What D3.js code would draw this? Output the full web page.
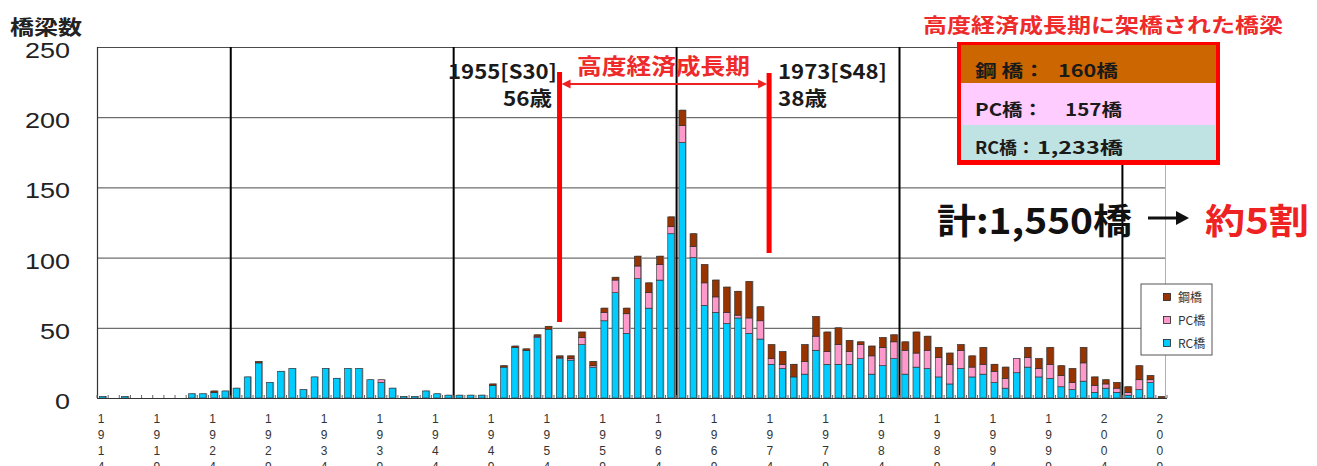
<!DOCTYPE html>
<html>
<head>
<meta charset="utf-8">
<script src="https://cdn.jsdelivr.net/npm/d3@7/dist/d3.min.js"></script>
<style>
  html, body { margin: 0; padding: 0; background: #fff; }
  svg { display: block; }
</style>
</head>
<body>
<svg id="chart" width="1317" height="466"></svg>
<script>
// Bridges built per year, 1914–2009, by structure type
const years = d3.range(1914, 2010);
const rcBridges = [
  1, 0, 1, 0, 0, 0, 0, 0, 3, 3,       // 1914-1923
  4, 5, 7, 15, 25, 11, 19, 21, 6, 15,  // 1924-1933
  21, 14, 21, 21, 13, 11, 7, 1, 1, 5,  // 1934-1943
  3, 2, 2, 2, 2, 9, 22, 36, 34, 43,    // 1944-1953
  49, 28, 27, 38, 22, 55, 75, 46, 85, 64, // 1954-1963
  84, 117, 182, 100, 66, 61, 53, 57, 46, 42, // 1964-1973
  24, 21, 15, 17, 34, 24, 24, 24, 28, 17, // 1974-1983
  23, 28, 17, 22, 21, 15, 10, 21, 15, 17, // 1984-1993
  11, 7, 18, 22, 15, 14, 8, 6, 12, 4,  // 1994-2003
  7, 4, 2, 6, 11, 0                    // 2004-2009
];
const pcBridges = [
  0, 0, 0, 0, 0, 0, 0, 0, 0, 0,
  0, 0, 0, 0, 0, 0, 0, 0, 0, 0,
  0, 0, 0, 0, 0, 2, 0, 0, 0, 0,
  0, 0, 0, 0, 0, 0, 0, 0, 0, 1,
  0, 1, 1, 5, 1, 6, 9, 14, 9, 11,
  11, 5, 12, 8, 16, 11, 8, 2, 11, 13,
  4, 3, 0, 9, 10, 9, 14, 9, 10, 13,
  13, 12, 17, 10, 13, 14, 14, 13, 7, 7,
  8, 7, 10, 7, 6, 10, 8, 5, 13, 5,
  3, 3, 2, 7, 2, 0
];
const steelBridges = [
  0, 0, 0, 0, 0, 0, 0, 0, 0, 0,
  1, 0, 0, 0, 1, 0, 0, 0, 0, 0,
  0, 0, 0, 0, 0, 0, 0, 0, 0, 0,
  0, 0, 0, 0, 0, 1, 1, 1, 1, 1,
  2, 1, 2, 4, 3, 3, 2, 4, 7, 7,
  6, 7, 11, 9, 13, 12, 18, 17, 26, 10,
  10, 9, 9, 12, 14, 14, 12, 8, 2, 7,
  7, 5, 6, 15, 10, 7, 8, 4, 8, 12,
  5, 8, 0, 7, 7, 12, 7, 10, 11, 6,
  3, 4, 4, 10, 3, 1
];
const seriesKeys = ["rc", "pc", "steel"];
const seriesNames = ["RC橋", "PC橋", "鋼橋"];
const yTicks = [0, 50, 100, 150, 200, 250];
const labelYears = d3.range(1914, 2010, 5);
const eraLineYears = [1926, 1946, 1966, 1986, 2006];
const periodStart = 1955, periodEnd = 1973;
const summaryNames = ["鋼 橋：", "PC橋：", "RC橋："];
const summaryCounts = ["160橋", "157橋", "1,233橋"];

const colors = { rc: "#00CCFF", pc: "#FF99CC", steel: "#993300" };

const svg = d3.select("#chart");
const jp = "'Noto Sans CJK JP', 'Noto Sans', sans-serif";
const latin = "'Liberation Sans', Arial, sans-serif";

const plotL = 97, plotR = 1167, plotT = 47, plotB = 398;
const gridRight = 1165;

const x = d3.scaleBand().domain(years).range([plotL, plotR]).paddingInner(0.42).paddingOuter(0.21);
const xYear = d3.scaleLinear().domain([1914, 2010]).range([plotL, plotR]);
const y = d3.scaleLinear().domain([0, 250]).range([plotB, plotT]);

const rows = years.map((yr, i) => ({ year: yr, rc: rcBridges[i], pc: pcBridges[i], steel: steelBridges[i] }));
const stacked = d3.stack().keys(seriesKeys)(rows);

// horizontal grid lines
svg.append("g").selectAll("line").data(yTicks.filter(d => d > 0)).join("line")
  .attr("x1", plotL).attr("x2", gridRight)
  .attr("y1", d => y(d) + 0.5).attr("y2", d => y(d) + 0.5)
  .attr("stroke", "#4a4a4a").attr("stroke-width", 1);

// right border of plot
svg.append("line").attr("x1", gridRight + 0.5).attr("x2", gridRight + 0.5)
  .attr("y1", plotT).attr("y2", plotB).attr("stroke", "#b0b0b0");

// y tick labels
svg.append("g").selectAll("text").data(yTicks).join("text")
  .attr("x", 70).attr("y", d => y(d) + 11)
  .attr("text-anchor", "end")
  .attr("font-family", latin).attr("font-size", 22).attr("fill", "#222")
  .attr("textLength", d => String(d).length * 15).attr("lengthAdjust", "spacingAndGlyphs")
  .text(d => d);

// axis title
svg.append("text").attr("x", 10).attr("y", 35)
  .attr("font-family", jp).attr("font-weight", 700).attr("font-size", 20).attr("fill", "#222")
  .attr("textLength", 72).attr("lengthAdjust", "spacingAndGlyphs")
  .text("橋梁数");

// bar shadows
svg.append("g").selectAll("rect").data(rows).join("rect")
  .attr("x", d => x(d.year) + 1.2)
  .attr("y", d => y(d.rc + d.pc + d.steel) - 0.5)
  .attr("width", x.bandwidth())
  .attr("height", d => { const t = d.rc + d.pc + d.steel; return t > 0 ? plotB - y(t) + 0.5 : 0; })
  .attr("fill", "#9c9c9c");

// stacked bars
svg.append("g").selectAll("g").data(stacked).join("g")
  .attr("fill", s => colors[s.key])
  .selectAll("rect").data(s => s.filter(d => d[1] > d[0])).join("rect")
  .attr("x", d => x(d.data.year))
  .attr("y", d => y(d[1]))
  .attr("width", x.bandwidth())
  .attr("height", d => y(d[0]) - y(d[1]))
  .attr("stroke", "#2a2a2a").attr("stroke-width", 0.6);

// 20-year reference lines
svg.append("g").selectAll("line").data(eraLineYears).join("line")
  .attr("x1", d => xYear(d)).attr("x2", d => xYear(d))
  .attr("y1", plotT).attr("y2", plotB)
  .attr("stroke", "#000").attr("stroke-width", 2);

// axes lines
svg.append("line").attr("x1", plotL).attr("x2", plotR).attr("y1", plotB + 0.5).attr("y2", plotB + 0.5)
  .attr("stroke", "#333").attr("stroke-width", 1.2);
svg.append("line").attr("x1", plotL + 0.5).attr("x2", plotL + 0.5).attr("y1", plotT).attr("y2", plotB)
  .attr("stroke", "#333").attr("stroke-width", 1.2);

// small year ticks
svg.append("g").selectAll("line").data(d3.range(1914, 2011)).join("line")
  .attr("x1", d => xYear(d)).attr("x2", d => xYear(d))
  .attr("y1", plotB - 3).attr("y2", plotB)
  .attr("stroke", "#666").attr("stroke-width", 1);

// vertical year labels, one digit per row
const xl = svg.append("g").attr("font-family", latin).attr("font-size", 12).attr("fill", "#333")
  .attr("text-anchor", "middle");
labelYears.forEach(yr => {
  String(yr).split("").forEach((ch, i) => {
    xl.append("text").attr("x", x(yr) + x.bandwidth() / 2 - 1.5).attr("y", 422.5 + i * 16).text(ch);
  });
});

// high-growth period markers
const red = "#FF0000";
const xs = xYear(periodStart + 0.5), xe = xYear(periodEnd + 1.3);
svg.append("rect").attr("x", xs - 2.5).attr("y", 72).attr("width", 5).attr("height", 322 - 72).attr("fill", red);
svg.append("rect").attr("x", xe - 2.5).attr("y", 73).attr("width", 5).attr("height", 253 - 73).attr("fill", red);

const ay = 84;
svg.append("line").attr("x1", xs + 8).attr("x2", xe - 8).attr("y1", ay).attr("y2", ay)
  .attr("stroke", "#EE2222").attr("stroke-width", 2);
svg.append("path").attr("d", `M${xs + 2},${ay} L${xs + 11},${ay - 4.5} L${xs + 11},${ay + 4.5} Z`).attr("fill", "#EE2222");
svg.append("path").attr("d", `M${xe - 2},${ay} L${xe - 11},${ay - 4.5} L${xe - 11},${ay + 4.5} Z`).attr("fill", "#EE2222");

svg.append("text").attr("x", 577).attr("y", 74)
  .attr("font-family", jp).attr("font-weight", 700).attr("font-size", 22).attr("fill", "#EE2a2a")
  .attr("textLength", 173).attr("lengthAdjust", "spacingAndGlyphs")
  .text("高度経済成長期");

function label(txt, xx, yy, len, size, color) {
  svg.append("text").attr("x", xx).attr("y", yy)
    .attr("font-family", jp).attr("font-weight", 700).attr("font-size", size).attr("fill", color || "#1a1a1a")
    .attr("textLength", len).attr("lengthAdjust", "spacingAndGlyphs")
    .text(txt);
}
label(`${periodStart}[S30]`, 448, 79, 109, 20);
label("56歳", 503, 106, 49, 20);
label(`${periodEnd}[S48]`, 778, 79, 109, 20);
label("38歳", 778, 106, 49, 20);

// summary box
label("高度経済成長期に架橋された橋梁", 923, 33, 360, 20, "#EE2a2a");

const boxX = 957, boxY = 42, boxW = 263, boxH = 123;
svg.append("rect").attr("x", boxX).attr("y", boxY).attr("width", boxW).attr("height", boxH).attr("fill", red);
const rowFills = ["#CC6600", "#FFCCFF", "#BFE3E3"];
const rowY = [45, 83, 125], rowH = [38, 42, 35];
rowFills.forEach((f, i) => {
  svg.append("rect").attr("x", boxX + 4).attr("y", rowY[i]).attr("width", boxW - 8).attr("height", rowH[i]).attr("fill", f);
});
// name column and count column of each row
label(summaryNames[0], 975, 77, 70, 17);
label(summaryCounts[0], 1058, 77, 60, 17);
label(summaryNames[1], 975, 116, 68, 17);
label(summaryCounts[1], 1065, 116, 57, 17);
label(summaryNames[2], 975, 154, 60, 17);
label(summaryCounts[2], 1037, 154, 86, 17);

// total
label("計:1,550橋", 937, 234, 195, 35, "#111");
svg.append("line").attr("x1", 1148).attr("x2", 1180).attr("y1", 218).attr("y2", 218).attr("stroke", "#111").attr("stroke-width", 3);
svg.append("path").attr("d", "M1189,218 L1176,211 L1176,225 Z").attr("fill", "#111");
label("約5割", 1205, 234, 104, 35, "#EE2222");

// legend
const lg = svg.append("g");
lg.append("rect").attr("x", 1141).attr("y", 284).attr("width", 71).attr("height", 71)
  .attr("fill", "#fff").attr("stroke", "#555").attr("stroke-width", 1);
const legendOrder = [2, 1, 0];
legendOrder.forEach((si, i) => {
  const cy = 297 + i * 23;
  lg.append("rect").attr("x", 1163.5).attr("y", cy - 3.5).attr("width", 7).attr("height", 7)
    .attr("fill", colors[seriesKeys[si]]).attr("stroke", "#222").attr("stroke-width", 0.8);
  lg.append("text").attr("x", 1178).attr("y", cy + 4.5)
    .attr("font-family", jp).attr("font-size", 12).attr("fill", "#333")
    .text(seriesNames[si]);
});
</script>
</body>
</html>
